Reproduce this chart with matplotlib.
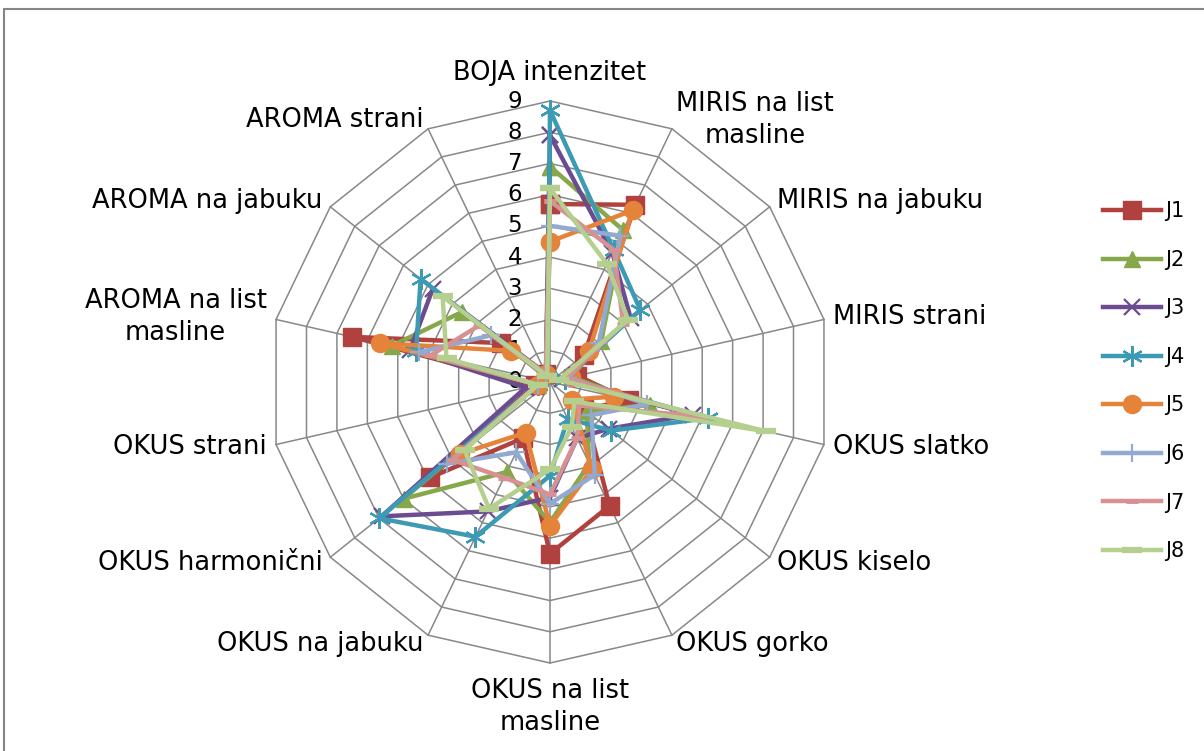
import numpy as np
import matplotlib
matplotlib.use("Agg")
import matplotlib.pyplot as plt
from matplotlib.patches import Rectangle

# categories, clockwise from the top
categories = ['BOJA intenzitet', 'MIRIS na list\nmasline', 'MIRIS na jabuku', 'MIRIS strani',
              'OKUS slatko', 'OKUS kiselo', 'OKUS gorko', 'OKUS na list\nmasline',
              'OKUS na jabuku', 'OKUS harmonični', 'OKUS strani', 'AROMA na list\nmasline',
              'AROMA na jabuku', 'AROMA strani']

series_names = ['J1', 'J2', 'J3', 'J4', 'J5', 'J6', 'J7', 'J8']

J1 = [5.7, 6.3, 1.4, 0.9, 2.6, 1.4, 4.4, 5.5, 2.0, 4.9, 0.5, 6.5, 2.0, 0.3]
J2 = [6.9, 5.4, 2.1, 0.7, 3.3, 1.5, 2.9, 4.5, 3.2, 6.0, 0.4, 5.2, 3.6, 0.3]
J3 = [7.9, 4.6, 3.3, 0.4, 4.7, 2.4, 2.0, 3.7, 4.6, 6.9, 0.8, 4.6, 4.8, 0.3]
J4 = [8.7, 4.7, 3.7, 0.5, 5.2, 2.5, 1.3, 3.0, 5.5, 7.0, 0.4, 4.4, 5.3, 0.2]
J5 = [4.5, 6.1, 1.6, 0.7, 2.1, 0.9, 3.1, 4.6, 1.8, 3.7, 0.4, 5.6, 1.6, 0.3]
J6 = [5.0, 5.2, 2.0, 0.6, 3.2, 1.7, 3.3, 3.9, 2.5, 4.2, 0.4, 4.3, 2.4, 0.3]
J7 = [5.8, 4.7, 3.0, 0.5, 5.0, 1.2, 2.0, 3.6, 3.4, 4.0, 0.4, 3.9, 2.9, 0.3]
J8 = [6.2, 4.2, 3.2, 0.3, 7.1, 1.0, 1.6, 2.8, 4.5, 3.5, 0.4, 3.4, 4.4, 0.2]

rings = list(range(0, 10))

colors = ['#B0413E', '#86A84A', '#6B4C90', '#3D9AB4', '#E5833A', '#92A9D1', '#D89192', '#B5CF8F']
markers = ['s', '^', 'x', (6, 2, 0), 'o', '+', '_', '_']
msizes = [13, 12, 12, 15, 13, 13, 9, 14]
mews = [1, 1, 1.6, 1.6, 1, 1.6, 3.5, 4.5]

plt.rcParams['font.family'] = ['DejaVu Sans']
grid_color = '#888888'
fs_cat = 18.5
fs_tick = 16.5

fig = plt.figure(figsize=(12.04, 7.51), dpi=100)
ax = fig.add_axes([269 / 1204, 88 / 751, 562 / 1204, 562 / 751], polar=True)
ax.set_theta_offset(np.pi / 2)
ax.set_theta_direction(-1)
ax.set_ylim(0, 9)
ax.grid(False)
ax.set_xticks([])
ax.set_yticks([])
ax.spines['polar'].set_visible(False)
ax.patch.set_alpha(0)

n = len(categories)
angles = np.linspace(0, 2 * np.pi, n, endpoint=False)
closed = np.append(angles, angles[0])

# polygon grid and spokes
for r in rings[1:]:
    ax.plot(closed, [r] * (n + 1), color=grid_color, lw=1.1, zorder=1, clip_on=False)
for a in angles:
    ax.plot([a, a], [0, rings[-1]], color=grid_color, lw=1.1, zorder=1, clip_on=False)

# value labels left of the vertical axis
for r in rings:
    ax.annotate(str(r), xy=(0, r), xytext=(-20, 0), textcoords='offset points',
                ha='right', va='center', fontsize=fs_tick, zorder=2)

# category labels
for a, lab in zip(angles, categories):
    dx, dy = np.sin(a), np.cos(a)
    if abs(dx) < 0.1:
        ha = 'center'
        va = 'bottom' if dy > 0 else 'top'
        off = (0, 11 * np.sign(dy))
    else:
        ha = 'left' if dx > 0 else 'right'
        va = 'center'
        off = (dx * 7, dy * 7)
    ax.annotate(lab, xy=(a, rings[-1]), xytext=off, textcoords='offset points',
                ha=ha, va=va, fontsize=fs_cat, multialignment='center',
                linespacing=1.3, zorder=2)

# series
all_series = [J1, J2, J3, J4, J5, J6, J7, J8]
for name, vals, c, m, ms, mew in zip(series_names, all_series, colors, markers, msizes, mews):
    v = np.append(vals, vals[0])
    ax.plot(closed, v, color=c, lw=3.2, marker=m, markersize=ms, markeredgewidth=mew,
            markerfacecolor=c, markeredgecolor=c, label=name, zorder=3, clip_on=False)

leg = fig.legend(loc='upper left', bbox_to_anchor=(1095 / 1204, 1 - 193 / 751), frameon=False,
                 fontsize=15, handlelength=2.75, handletextpad=0.2, labelspacing=1.37,
                 borderaxespad=0)

# chart area border
fig.add_artist(Rectangle((3.5 / 1204, -0.05), 1.2, 1 - 8.5 / 751 + 0.05,
                         transform=fig.transFigure, fill=False, edgecolor='#868686', lw=1.5))

plt.savefig('out.png', dpi=100)
plt.close()
